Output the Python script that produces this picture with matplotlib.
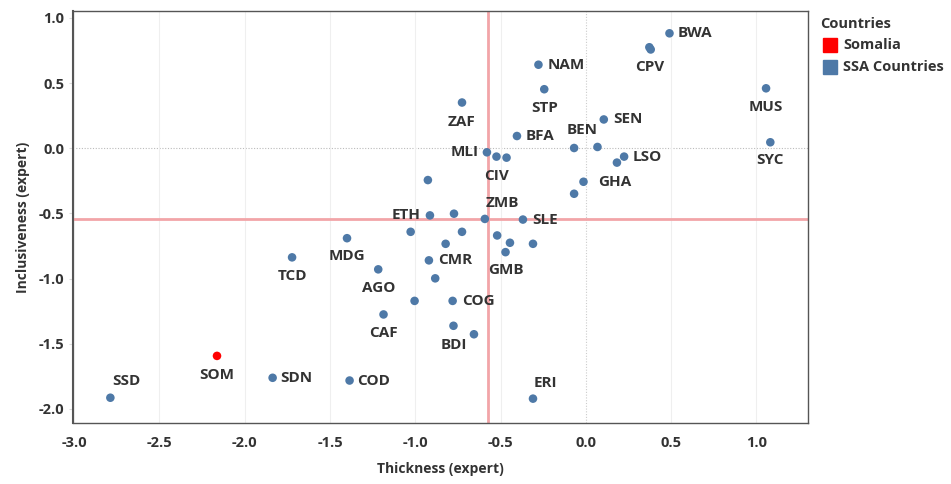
import matplotlib.pyplot as plt
from matplotlib.patches import Rectangle

# Country codes ("" = point drawn without a label)
codes = [
    "BWA", "CPV", "", "NAM", "MUS", "STP", "ZAF", "SEN", "BFA", "SYC",
    "BEN", "", "MLI", "CIV", "", "", "LSO", "", "GHA", "",
    "", "ETH", "ZMB", "SLE", "", "", "", "MDG", "", "", "",
    "GMB", "TCD", "CMR", "AGO", "", "", "COG", "CAF", "BDI", "",
    "SOM", "SDN", "COD", "ERI", "SSD",
]

thickness = [
    0.490, 0.372, 0.380, -0.278, 1.056, -0.244, -0.726, 0.105, -0.404, 1.081,
    -0.069, 0.068, -0.580, -0.524, -0.465, 0.182, 0.224, -0.926, -0.014, -0.069,
    -0.773, -0.914, -0.592, -0.369, -1.027, -0.726, -0.520, -1.400, -0.445, -0.822, -0.310,
    -0.471, -1.722, -0.920, -1.217, -0.883, -1.004, -0.781, -1.186, -0.776, -0.656,
    -2.162, -1.836, -1.385, -0.310, -2.787,
]

inclusiveness = [
    0.882, 0.775, 0.758, 0.641, 0.460, 0.453, 0.351, 0.221, 0.094, 0.046,
    0.002, 0.010, -0.031, -0.064, -0.072, -0.110, -0.064, -0.244, -0.257, -0.349,
    -0.502, -0.515, -0.542, -0.547, -0.641, -0.641, -0.669, -0.690, -0.725, -0.733, -0.733,
    -0.797, -0.837, -0.860, -0.929, -0.998, -1.171, -1.171, -1.275, -1.362, -1.427,
    -1.593, -1.761, -1.782, -1.921, -1.914,
]

highlight = "SOM"
mean_thickness = -0.576
mean_inclusiveness = -0.54

x_ticks = [-3.0, -2.5, -2.0, -1.5, -1.0, -0.5, 0.0, 0.5, 1.0]
y_ticks = [1.0, 0.5, 0.0, -0.5, -1.0, -1.5, -2.0]

# label placement: (dx px, dy px, ha)
label_pos = {
    "BWA": (8, 0, "left"), "CPV": (0, -20, "center"), "NAM": (9, 0, "left"),
    "MUS": (0, -19, "center"), "STP": (0, -19, "center"), "ZAF": (-1, -19, "center"),
    "SEN": (9, 0, "left"), "BFA": (9, 0, "left"), "SYC": (0, -18, "center"),
    "BEN": (8, 18, "center"), "MLI": (-8, 0, "right"), "CIV": (0, -19, "center"),
    "LSO": (9, 0, "left"), "GHA": (15, 0, "left"), "ETH": (-9, 0, "right"),
    "ZMB": (17, 16, "center"), "SLE": (9, 0, "left"), "MDG": (0, -18, "center"),
    "GMB": (0, -18, "center"), "TCD": (0, -19, "center"), "CMR": (9, 0, "left"),
    "AGO": (0, -19, "center"), "COG": (9, 0, "left"), "CAF": (0, -19, "center"),
    "BDI": (0, -19, "center"), "SOM": (0, -19, "center"), "SDN": (8, 0, "left"),
    "COD": (8, 0, "left"), "ERI": (12, 16, "center"), "SSD": (16, 17, "center"),
}

blue = "#4e79a7"
red = "#ff0000"
txt = "#333333"
font = ["Open Sans", "DejaVu Sans"]
plt.rcParams["font.family"] = font

fig = plt.figure(figsize=(9.51, 4.84), dpi=100)
ax = fig.add_axes([0.0764, 0.126, 0.7729, 0.8515])

colors = [red if c == highlight else blue for c in codes]
ax.scatter(thickness, inclusiveness, s=38, c=colors, zorder=3, linewidths=0)

ax.axvline(mean_thickness, color="#f2a5a8", lw=2, zorder=2)
ax.axhline(mean_inclusiveness, color="#f2a5a8", lw=2, zorder=2)
ax.axhline(0, color="#bbbbbb", lw=0.8, ls=(0, (1, 1.5)), zorder=1)

for c, x, y in zip(codes, thickness, inclusiveness):
    if not c:
        continue
    dx, dy, ha = label_pos[c]
    ax.annotate(c, (x, y), xytext=(dx, dy), textcoords="offset pixels",
                ha=ha, va="center", fontsize=11, fontweight="bold", color=txt, zorder=4)

ax.set_xlim(-3.008, 1.30)
ax.set_ylim(-2.108, 1.054)
ax.set_xticks(x_ticks)
ax.set_yticks(y_ticks)
ax.set_xticklabels([f"{v:.1f}" for v in x_ticks])
ax.set_yticklabels([f"{v:.1f}" for v in y_ticks])
ax.tick_params(axis="x", length=0, pad=9, labelsize=10.5, labelcolor=txt)
ax.tick_params(axis="y", length=3, color="#dddddd", pad=3, labelsize=10.5, labelcolor=txt)
for lab in ax.get_xticklabels() + ax.get_yticklabels():
    lab.set_fontweight("bold")

ax.grid(axis="x", color="#efefef", lw=0.8, zorder=0)
for gl, v in zip(ax.get_xgridlines(), x_ticks):
    if v == 0.0:
        gl.set_linestyle((0, (1, 1.5)))
        gl.set_color("#cccccc")

for s in ax.spines.values():
    s.set_color("#555555")
    s.set_linewidth(1.0)
ax.spines["left"].set_linewidth(1.5)

ax.set_xlabel("Thickness (expert)", fontsize=10, fontweight="bold", color=txt, labelpad=9)
ax.set_ylabel("Inclusiveness (expert)", fontsize=10, fontweight="bold", color=txt, labelpad=6)

# legend
fig.text(820.5 / 951, 1 - 24 / 484, "Countries", fontsize=10.5, fontweight="bold",
         color=txt, ha="left", va="center")
for i, (lbl, col) in enumerate([("Somalia", red), ("SSA Countries", blue)]):
    yc = 45 + i * 22
    fig.patches.append(Rectangle((823 / 951, 1 - (yc + 7) / 484), 14 / 951, 14 / 484,
                                 transform=fig.transFigure, color=col, figure=fig))
    fig.text(843 / 951, 1 - yc / 484, lbl, fontsize=10.5, fontweight="bold",
             color=txt, ha="left", va="center")

fig.savefig("out.png", dpi=100)
